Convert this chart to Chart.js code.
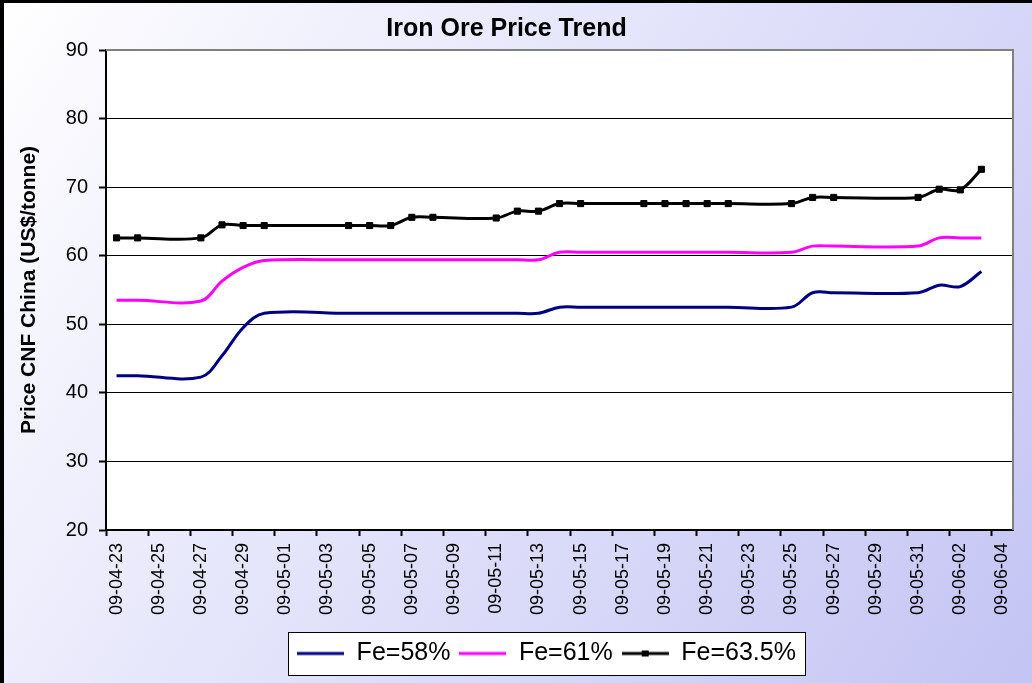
<!DOCTYPE html>
<html>
<head>
<meta charset="utf-8">
<script src="https://cdn.jsdelivr.net/npm/chart.js@4.4.1/dist/chart.umd.min.js"></script>
<style>
html, body { margin: 0; padding: 0; background: #fff; }
</style>
</head>
<body>
<canvas id="myChart" width="1032" height="683"></canvas>
<script>
// trading days (yy-mm-dd)
var tradeDays = ['09-04-23', '09-04-24', '09-04-27', '09-04-28', '09-04-29', '09-04-30',
                 '09-05-04', '09-05-05', '09-05-06', '09-05-07', '09-05-08',
                 '09-05-11', '09-05-12', '09-05-13', '09-05-14', '09-05-15',
                 '09-05-18', '09-05-19', '09-05-20', '09-05-21', '09-05-22',
                 '09-05-25', '09-05-26', '09-05-27', '09-05-31',
                 '09-06-01', '09-06-02', '09-06-03'];

var fe58  = [42.5, 42.5, 42.3, 45.4, 49.5, 51.6,
             51.6, 51.6, 51.6, 51.6, 51.6,
             51.6, 51.6, 51.6, 52.5, 52.5,
             52.5, 52.5, 52.5, 52.5, 52.5,
             52.5, 54.6, 54.6, 54.6,
             55.7, 55.5, 57.7];
var fe61  = [53.5, 53.5, 53.4, 56.3, 58.3, 59.3,
             59.4, 59.4, 59.4, 59.4, 59.4,
             59.4, 59.4, 59.4, 60.5, 60.5,
             60.5, 60.5, 60.5, 60.5, 60.5,
             60.5, 61.4, 61.4, 61.4,
             62.6, 62.6, 62.6];
var fe635 = [62.6, 62.6, 62.6, 64.5, 64.4, 64.4,
             64.4, 64.4, 64.4, 65.6, 65.6,
             65.5, 66.5, 66.5, 67.6, 67.6,
             67.6, 67.6, 67.6, 67.6, 67.6,
             67.6, 68.5, 68.5, 68.5,
             69.7, 69.6, 72.6];

var seriesNames  = ['Fe=58%', 'Fe=61%', 'Fe=63.5%'];
var seriesColors = ['#000080', '#ff00ff', '#000000'];

// date axis, one slot per calendar day
var axisStart = '2009-04-23';
var axisEnd   = '2009-06-04';
var axisDays = [];
for (var d = new Date(axisStart + 'T00:00:00Z'); d <= new Date(axisEnd + 'T00:00:00Z'); d.setUTCDate(d.getUTCDate() + 1)) {
    axisDays.push(d.toISOString().slice(2, 10));
}

function points(vals) {
    return tradeDays.map(function (t, i) { return { x: t, y: vals[i] }; });
}

// little picture for the legend: line (and square marker)
function legendSample(color, marker) {
    var c = document.createElement('canvas');
    c.width = 47; c.height = 12;
    var g = c.getContext('2d');
    g.strokeStyle = color;
    g.lineWidth = 3;
    g.beginPath(); g.moveTo(0, 6); g.lineTo(47, 6); g.stroke();
    if (marker) {
        g.fillStyle = color;
        g.fillRect(20, 3, 7, 6);
    }
    return c;
}

var decor = {
    id: 'decor',
    afterLayout: function (chart) {
        // legend sits a bit right of centre in the original
        chart.legend.left += 80;
    },
    beforeDraw: function (chart) {
        var ctx = chart.ctx, a = chart.chartArea, W = chart.width, H = chart.height;
        ctx.save();
        var grad = ctx.createLinearGradient(0, 0, W, H);
        grad.addColorStop(0, '#ffffff');
        grad.addColorStop(0.45, '#e4e4fb');
        grad.addColorStop(1, '#c4c4f4');
        ctx.fillStyle = grad;
        ctx.fillRect(0, 0, W, H);
        ctx.fillStyle = '#000';
        ctx.fillRect(0, 0, W, 3);
        ctx.fillRect(0, 0, 4, H);
        ctx.fillStyle = '#fff';
        ctx.fillRect(a.left, a.top, a.right - a.left, a.bottom - a.top);

        var hb = chart.legend.legendHitBoxes;
        if (hb && hb.length) {
            var last = hb[hb.length - 1];
            var l = Math.round(hb[0].left - 9), r = Math.round(last.left + last.width + 9);
            var t = Math.round(hb[0].top - 9), b = Math.round(hb[0].top + hb[0].height + 9);
            ctx.fillStyle = '#fff';
            ctx.fillRect(l, t, r - l, b - t);
            ctx.strokeStyle = '#000';
            ctx.lineWidth = 1;
            ctx.strokeRect(l + 0.5, t + 0.5, r - l, b - t);
        }
        ctx.restore();
    },
    beforeDatasetsDraw: function (chart) {
        var ctx = chart.ctx, a = chart.chartArea;
        ctx.save();
        ctx.strokeStyle = '#808080';
        ctx.lineWidth = 2;
        ctx.beginPath();
        ctx.moveTo(a.left, a.top);
        ctx.lineTo(a.right, a.top);
        ctx.lineTo(a.right, a.bottom);
        ctx.stroke();
        ctx.restore();
    }
};

Chart.defaults.font.family = '"Liberation Sans", Arial, sans-serif';
Chart.defaults.color = '#000';

var ctx = document.getElementById('myChart');
var myChart = new Chart(ctx, {
    type: 'line',
    data: {
        labels: axisDays,
        datasets: [{
            label: seriesNames[0],
            data: points(fe58),
            borderColor: seriesColors[0],
            borderWidth: 3,
            pointRadius: 0,
            tension: 0.35
        }, {
            label: seriesNames[1],
            data: points(fe61),
            borderColor: seriesColors[1],
            borderWidth: 3,
            pointRadius: 0,
            tension: 0.35
        }, {
            label: seriesNames[2],
            data: points(fe635),
            borderColor: seriesColors[2],
            backgroundColor: seriesColors[2],
            borderWidth: 3,
            pointStyle: 'rect',
            pointRadius: 4.3,
            pointBorderWidth: 1,
            tension: 0.35
        }]
    },
    options: {
        responsive: false,
        animation: false,
        layout: { padding: { left: 0, right: 19, top: 0, bottom: 7 } },
        plugins: {
            title: {
                display: true,
                text: 'Iron Ore Price Trend',
                font: { size: 25, weight: 'bold' },
                padding: { top: 14, bottom: 6 }
            },
            legend: {
                position: 'bottom',
                labels: {
                    usePointStyle: true,
                    pointStyleWidth: 47,
                    padding: 9,
                    font: { size: 25 },
                    generateLabels: function (chart) {
                        var items = Chart.defaults.plugins.legend.labels.generateLabels(chart);
                        items.forEach(function (it, i) {
                            it.pointStyle = legendSample(seriesColors[i], i === 2);
                        });
                        return items;
                    }
                }
            },
            tooltip: { enabled: false }
        },
        scales: {
            x: {
                offset: true,
                grid: {
                    offset: true,
                    drawOnChartArea: false,
                    tickLength: 6,
                    tickWidth: 2,
                    tickColor: function (c) { return c.index % 2 === 0 ? '#000' : 'rgba(0,0,0,0)'; }
                },
                border: { color: '#000', width: 2 },
                ticks: {
                    autoSkip: false,
                    minRotation: 90,
                    maxRotation: 90,
                    padding: 7,
                    font: { size: 18 },
                    callback: function (v, i) { return i % 2 === 0 ? this.getLabelForValue(v) : ''; }
                },
                afterFit: function (scale) { scale.height = 102; }
            },
            y: {
                min: 20,
                max: 90,
                ticks: { stepSize: 10, padding: 11, font: { size: 20 } },
                grid: {
                    color: function (c) { return c.tick && c.tick.value === 90 ? 'rgba(0,0,0,0)' : '#000'; },
                    lineWidth: 1,
                    tickLength: 7,
                    tickColor: '#000',
                    tickWidth: 2
                },
                border: { color: '#000', width: 2 },
                title: {
                    display: true,
                    text: 'Price CNF China (US$/tonne)',
                    font: { size: 21, weight: 'bold' },
                    padding: { top: 17, bottom: 0 }
                },
                afterFit: function (scale) { scale.width = 106; }
            }
        }
    },
    plugins: [decor]
});
</script>
</body>
</html>
